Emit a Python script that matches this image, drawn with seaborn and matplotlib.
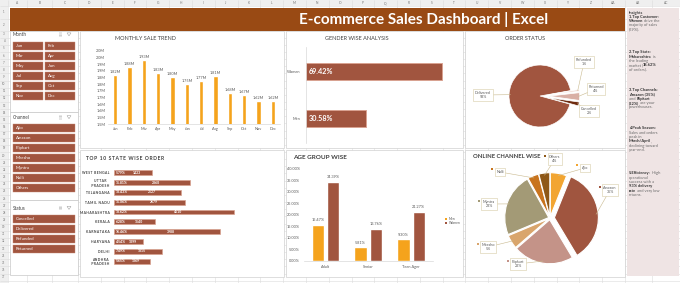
import matplotlib
matplotlib.use('Agg')
import matplotlib.pyplot as plt
import seaborn as sns
import pandas as pd
import numpy as np
from matplotlib.patches import Rectangle, Polygon

# ---------------- data ----------------
months = ['Jan', 'Feb', 'Mar', 'Apr', 'May', 'Jun', 'Jul', 'Aug', 'Sep', 'Oct', 'Nov', 'Dec']
monthly_sales_m = [1.82, 1.88, 1.93, 1.83, 1.80, 1.75, 1.77, 1.81, 1.68, 1.67, 1.62, 1.62]
sales_axis_ticks = [1.45, 1.50, 1.55, 1.60, 1.65, 1.70, 1.75, 1.80, 1.85, 1.90, 1.95, 2.00]
sales_axis_labels = ['1.5M', '1.5M', '1.6M', '1.6M', '1.7M', '1.7M', '1.8M', '1.8M', '1.9M', '1.9M', '2.0M', '2.0M']

genders = ['Women', 'Men']
gender_pct = [69.42, 30.58]

status_labels = ['Delivered', 'Refunded', 'Returned', 'Cancelled']
status_pct = [93, 1, 4, 2]

states = ['WEST BENGAL', 'UTTAR\nPRADESH', 'TELANGANA', 'TAMIL NADU', 'MAHARASHTRA',
          'KERALA', 'KARNATAKA', 'HARYANA', 'DELHI', 'ANDHRA\nPRADESH']
state_orders = [1423, 2860, 2527, 2679, 4510, 1540, 3988, 1099, 1815, 1369]
state_share = [5.79, 11.81, 10.43, 11.06, 18.62, 6.28, 16.46, 4.54, 7.49, 5.65]

age_groups = ['Adult', 'Senior', 'Teen Ager']
age_men = [15.47, 5.81, 9.30]
age_women = [34.39, 13.76, 21.27]
age_ticks = [0, 5, 10, 15, 20, 25, 30, 35, 40]

channels = ['Ajio', 'Amazon', 'Flipkart', 'Meesho', 'Myntra', 'Nalli', 'Others']
channel_pct = [6, 35, 22, 5, 23, 4, 4]

slicer_months = months
slicer_channels = channels
slicer_status = ['Cancelled', 'Delivered', 'Refunded', 'Returned']

dashboard_title = 'E-commerce Sales Dashboard | Excel'
insight_blocks = [
    ["**1.Top Customer:**", "**Women** drive the", "majority of sales", "(69%)."],
    ["**2.Top State:**", "**Maharashtra** is", "the leading", "market (**18.62%**", "of orders)."],
    ["**3.Top Channels:**", "**Amazon (35%)**", "and **Flipkart**", "**(22%)** are your", "powerhouses."],
    ["**4.Peak Season:**", "Sales and orders", "peak in", "**March/April**,", "declining toward", "year-end."],
    ["**5.Efficiency:** High", "operational", "success with a", "**93% delivery**", "**rate** and very low", "returns."],
]

# ---------------- style ----------------
sns.set_theme(style='white')
plt.rcParams['font.family'] = ['Lato', 'DejaVu Sans']

BROWN = '#A1553F'
BROWN_EDGE = '#D9A291'
ORANGE = '#F5A31C'
TITLE_BROWN = '#994A14'
GRID = '#DCDCDC'
TXT = '#404040'
LTXT = '#595959'

W, H = 680, 283
fig = plt.figure(figsize=(6.8, 2.83), dpi=100)
fig.patch.set_facecolor('white')


def ax_px(x, y, w, h):
    a = fig.add_axes([x / W, 1 - (y + h) / H, w / W, h / H])
    a.patch.set_alpha(0)
    return a


def canvas_axes():
    a = fig.add_axes([0, 0, 1, 1])
    a.set_xlim(0, W)
    a.set_ylim(H, 0)
    a.axis('off')
    a.patch.set_alpha(0)
    return a


bg = canvas_axes()


def rect(a, x, y, w, h, fc, ec='none', lw=0.5, z=2):
    a.add_patch(Rectangle((x, y), w, h, facecolor=fc, edgecolor=ec, linewidth=lw, zorder=z))


# ---------------- excel sheet background ----------------
col_edges = [8, 27, 52, 78] + list(np.linspace(78, 625, 25)[1:]) + [652, 680]
col_names = ['A', 'B', 'C'] + [chr(ord('D') + i) for i in range(23)] + ['AA', 'AB', 'AC']
rect(bg, 0, 0, W, 6, '#EFEFEF', z=1)
rect(bg, 0, 0, 8, H, '#EFEFEF', z=1)
for e in col_edges:
    bg.vlines(e, 0, H, color=GRID, lw=0.4, zorder=1)
for i, nm in enumerate(col_names):
    bg.text((col_edges[i] + col_edges[i + 1]) / 2, 3.2, nm, fontsize=2.3, color='#777777',
            ha='center', va='center', zorder=1)
row_edges = [6, 18.5, 30.5] + list(np.arange(30.5 + 7.15, H, 7.15))
bg.hlines(row_edges, 0, W, color=GRID, lw=0.4, zorder=1)
for i in range(len(row_edges) - 1):
    bg.text(4, (row_edges[i] + row_edges[i + 1]) / 2, str(i + 1), fontsize=2.1, color='#777777',
            ha='center', va='center', zorder=1)

# title bar
rect(bg, 10, 8, 615, 22.5, TITLE_BROWN, z=2)

# chart panels
panels = [(80, 31, 204, 117), (286, 31, 177, 117), (465, 31, 160, 117),
          (80, 150, 204, 127), (286, 150, 177, 127), (465, 150, 160, 127)]
for (x, y, w, h) in panels:
    rect(bg, x, y, w, h, 'white', ec='#D0D0D0', lw=0.5, z=2)

# insights panel
rect(bg, 627, 8, 52, 268, '#EFE4E4', z=2)

# slicers
slicer_boxes = [(10, 31, 68, 81), (10, 112, 68, 88), (10, 200, 68, 75)]
for (x, y, w, h) in slicer_boxes:
    rect(bg, x, y, w, h, 'white', ec='#C8C8C8', lw=0.5, z=2)


def slicer_header(y, name):
    bg.text(13, y, name, fontsize=3.3, color=TXT, va='center', zorder=3)
    for k in range(3):
        bg.hlines(y - 1.2 + k * 1.2, 58.5, 62, color='#8A8A8A', lw=0.3, zorder=3)
    bg.add_patch(Polygon([[67, y - 1.6], [71, y - 1.6], [69, y + 1.4]], closed=True,
                         facecolor='none', edgecolor='#8A8A8A', lw=0.3, zorder=3))


def button(x, y, w, label):
    rect(bg, x, y, w, 8.3, BROWN, ec='#C98A77', lw=0.3, z=3)
    bg.text(x + 3, y + 4.3, label, fontsize=3.2, color='white', va='center', zorder=4)


slicer_header(34.5, 'Month')
for i, m in enumerate(slicer_months):
    button(13 + (i % 2) * 32, 41.7 + (i // 2) * 10, 30, m)
slicer_header(117.3, 'Channel')
for i, c in enumerate(slicer_channels):
    button(13, 124 + i * 10, 62, c)
slicer_header(208, 'Status')
for i, s in enumerate(slicer_status):
    button(13, 215 + i * 10, 62, s)

# ---------------- monthly sale trend ----------------
ax1 = ax_px(108, 50.7, 172, 73.3)
df_m = pd.DataFrame({'Month': months, 'Sales': monthly_sales_m})
sns.barplot(data=df_m, x='Month', y='Sales', color=ORANGE, width=0.32, saturation=1, ax=ax1)
ax1.set_ylim(sales_axis_ticks[0], sales_axis_ticks[-1])
ax1.set_yticks(sales_axis_ticks)
ax1.set_yticklabels(sales_axis_labels)
ax1.tick_params(labelsize=2.8, colors=LTXT, length=0, pad=2)
ax1.set_xlabel('')
ax1.set_ylabel('')
for s in ['top', 'right', 'left']:
    ax1.spines[s].set_visible(False)
ax1.spines['bottom'].set_color('#D9D9D9')
ax1.spines['bottom'].set_linewidth(0.5)
for i, v in enumerate(monthly_sales_m):
    ax1.text(i, v + 0.008, f'{v:.2f}M', ha='center', va='bottom', fontsize=2.8, color=LTXT)

# ---------------- gender ----------------
ax2 = ax_px(306, 47, 157, 96)
sns.barplot(x=gender_pct, y=genders, orient='h', color=BROWN, width=0.36, saturation=1,
            edgecolor=BROWN_EDGE, linewidth=0.7, ax=ax2)
ax2.set_xlim(0, 80)
ax2.set_ylim(1.52, -0.52)
ax2.set_xticks([])
ax2.set_xlabel('')
ax2.set_ylabel('')
ax2.tick_params(axis='y', labelsize=2.8, colors=LTXT, length=0, pad=4)
for s in ['top', 'right', 'bottom']:
    ax2.spines[s].set_visible(False)
ax2.spines['left'].set_color('#D9D9D9')
ax2.spines['left'].set_linewidth(0.5)
for i, v in enumerate(gender_pct):
    ax2.text(1.2, i, f'{v:.2f}%', ha='left', va='center', fontsize=5.2, color='white',
             fontweight='bold')

# ---------------- order status pie ----------------
OC, OR = (540, 96), 31
ax3 = ax_px(OC[0] - 38.75, OC[1] - 38.75, 77.5, 77.5)
status_colors = [BROWN, '#F0DAD4', '#D9AFA5', '#6E2A0E']
w3, _ = ax3.pie(status_pct, colors=status_colors, startangle=-15.2, counterclock=False,
                explode=[0, 0.28, 0.28, 0.28],
                wedgeprops=dict(edgecolor='white', linewidth=0.5))
ax3.set_xlim(-1.25, 1.25)
ax3.set_ylim(-1.25, 1.25)

# ---------------- top 10 states ----------------
ax4 = ax_px(114, 167.8, 133, 98.3)
sns.barplot(x=state_orders, y=states, orient='h', color=BROWN, width=0.5, saturation=1,
            edgecolor=BROWN_EDGE, linewidth=0.5, ax=ax4)
ax4.set_xlim(0, 5000)
ax4.set_ylim(9.5, -0.5)
ax4.set_xticks([])
ax4.set_xlabel('')
ax4.set_ylabel('')
spaced = ['\u2009'.join(list(s)) for s in states]
ax4.set_yticks(range(len(states)))
ax4.set_yticklabels(spaced, fontsize=2.4, color=TXT, fontweight='bold', multialignment='center')
ax4.tick_params(axis='y', length=0, pad=3)
for s in ax4.spines.values():
    s.set_visible(False)
for i, (v, p) in enumerate(zip(state_orders, state_share)):
    ax4.text(70, i, f'{p:.2f}%', ha='left', va='center', fontsize=2.5, color='white', fontweight='bold')
    ax4.text(v / 2 + 150, i, f'{v}', ha='center', va='center', fontsize=2.5, color='white', fontweight='bold')

# ---------------- age group ----------------
ax5 = ax_px(304, 168.7, 128.5, 92)
df_age = pd.DataFrame({'Age': age_groups * 2,
                       'Gender': ['Men'] * 3 + ['Women'] * 3,
                       'Pct': age_men + age_women})
sns.barplot(data=df_age, x='Age', y='Pct', hue='Gender', palette={'Men': ORANGE, 'Women': BROWN},
            width=0.72, gap=0.2, saturation=1, legend=False, ax=ax5)
ax5.set_ylim(0, 40)
ax5.set_yticks(age_ticks)
ax5.set_yticklabels([f'{t:.2f}%' for t in age_ticks])
ax5.tick_params(labelsize=2.8, colors=LTXT, length=0, pad=3)
ax5.set_xlabel('')
ax5.set_ylabel('')
for s in ['top', 'right', 'left']:
    ax5.spines[s].set_visible(False)
ax5.spines['bottom'].set_color('#D9D9D9')
ax5.spines['bottom'].set_linewidth(0.5)
for cont, vals in zip(ax5.containers, [age_men, age_women]):
    ax5.bar_label(cont, labels=[f'{v:.2f}%' for v in vals], fontsize=2.8, color=LTXT, padding=2)

# ---------------- channel pie ----------------
CC, CR = (550, 218), 44
ax6 = ax_px(CC[0] - 55, CC[1] - 55, 110, 110)
channel_colors = ['#F2A531', '#A0553F', '#C49388', '#D9A56C', '#A39A76', '#C8741E', '#8E5817']
w6, _ = ax6.pie(channel_pct, colors=channel_colors, startangle=90, counterclock=False,
                explode=[0.03, 0.1, 0.04, 0.03, 0.03, 0.03, 0.03],
                wedgeprops=dict(edgecolor='white', linewidth=0.8))
ax6.set_xlim(-1.25, 1.25)
ax6.set_ylim(-1.25, 1.25)

# ---------------- overlay: titles, callouts, insights ----------------
top = canvas_axes()
top.text(424, 19.5, dashboard_title, fontsize=11, color='white', fontweight='bold',
         ha='center', va='center', zorder=5)
top.text(115, 38.5, 'MONTHLY SALE TREND', fontsize=4, color=TXT, va='center')
top.text(325, 38.5, 'GENDER WISE ANALYSIS', fontsize=4, color=TXT, va='center')
top.text(505, 38.5, 'ORDER STATUS', fontsize=4, color=TXT, va='center')
top.text(86, 158, '\u2009'.join(list('TOP 10 STATE WISE ORDER')), fontsize=3.6, color=TXT,
         fontweight='bold', va='center')
top.text(293, 157.5, 'AGE GROUP WISE', fontsize=4.6, color=TXT, fontweight='bold', va='center')
top.text(473, 156, 'ONLINE CHANNEL WISE', fontsize=4.2, color=TXT, fontweight='bold', va='center')

# age legend
for k, (nm, col) in enumerate([('Men', ORANGE), ('Women', BROWN)]):
    rect(top, 445, 217.8 + k * 3.8, 2.2, 2.2, col, z=5)
    top.text(448.5, 219 + k * 3.8, nm, fontsize=2.4, color=LTXT, va='center')


def wedge_point(wd, cx, cy, r, frac=1.0):
    ang = np.deg2rad((wd.theta1 + wd.theta2) / 2)
    x0, y0 = wd.center
    return cx + r * (x0 + frac * np.cos(ang)), cy - r * (y0 + frac * np.sin(ang))


box = dict(boxstyle='square,pad=0.45', fc='white', ec='#D6CBA6', lw=0.4)

status_pos = [(483, 95), (584, 62), (596, 89), (589, 111)]
for wd, lab, pct, (bx, by) in zip(w3, status_labels, status_pct, status_pos):
    px, py = wedge_point(wd, OC[0], OC[1], OR, 0.95)
    top.plot([px, bx], [py, by], color='#C9B98E', lw=0.4, zorder=3)
    top.text(bx, by, f'{lab}\n{pct}%', fontsize=2.7, color=LTXT, ha='center', va='center',
             linespacing=1.3, bbox=box, zorder=4)

channel_show_pct = [False, True, True, True, True, False, True]
channel_pos = [(585, 168), (610, 190), (518, 264), (488, 247), (489, 204), (500, 172), (555, 159)]
for wd, lab, pct, show, col, (bx, by) in zip(w6, channels, channel_pct, channel_show_pct,
                                             channel_colors, channel_pos):
    px, py = wedge_point(wd, CC[0], CC[1], CR, 0.95)
    top.plot([px, bx], [py, by], color='#C9B98E', lw=0.4, zorder=3)
    txt = f'{lab}\n{pct}%' if show else lab
    top.text(bx, by, txt, fontsize=2.7, color=LTXT, ha='center', va='center',
             linespacing=1.3, bbox=box, zorder=4)
    kx = bx - 10 if show else bx - 8
    rect(top, kx - 1, by - 4, 1.6, 1.6, col, z=5)

# insights text
renderer = fig.canvas.get_renderer()
top.text(629, 12.7, 'Insights', fontsize=3.0, color=TXT, fontweight='bold', va='center')
block_y = [16.7, 52.3, 90, 128.3, 173.3]
for y0, lines in zip(block_y, insight_blocks):
    for j, line in enumerate(lines):
        y = y0 + j * 4.33
        x = 629
        parts = line.split('**')
        for k, seg in enumerate(parts):
            if not seg:
                continue
            t = top.text(x, y, seg, fontsize=2.9, color='#333333' if k % 2 else '#6A6A6A',
                         fontweight='bold' if k % 2 else 'normal', va='center')
            bb = t.get_window_extent(renderer=renderer)
            x = bb.x1 * W / fig.bbox.width

fig.savefig('out.png', dpi=100, facecolor='white')
